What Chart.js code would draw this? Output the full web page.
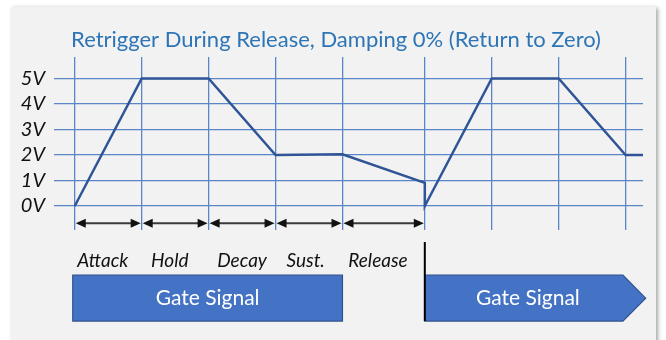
<!DOCTYPE html>
<html>
<head>
<meta charset="utf-8">
<script src="https://cdn.jsdelivr.net/npm/chart.js@4/dist/chart.umd.min.js"></script>
<style>
html,body{margin:0;padding:0;background:#ffffff;}
#wrap{width:666px;height:340px;position:relative;}
</style>
</head>
<body>
<div id="wrap"><canvas id="c" width="666" height="340"></canvas></div>
<script>
// ---- data ----
const titleText = "Retrigger During Release, Damping 0% (Return to Zero)";
const timeValues = [0, 1, 2, 3, 4, 5.23, 5.23, 6.23, 7.23, 8.23, 8.49];
const voltValues = [0, 5, 5, 2, 2.03, 0.91, 0, 5, 5, 2, 2];
const xGridValues = [0, 1, 2, 3, 4, 5.23, 6.23, 7.23, 8.23];
const yTickValues = [0, 1, 2, 3, 4, 5];
const yTickLabels = ["0V", "1V", "2V", "3V", "4V", "5V"];
const stageLabels = ["Attack", "Hold", "Decay", "Sust.", "Release"];
const stageLabelX = [0.42, 1.42, 2.5, 3.45, 4.53];
const arrowBounds = [0, 1, 2, 3, 4, 5.23];
const gateLabel = "Gate Signal";
const gate1 = [-0.03, 4.0];
const gate2 = [5.23, 8.19, 8.53];

const points = timeValues.map((t, i) => ({x: t, y: voltValues[i]}));

const panelPlugin = {
  id: 'panel',
  beforeDraw(chart) {
    const ctx = chart.ctx;
    ctx.save();
    ctx.fillStyle = '#ffffff';
    ctx.fillRect(0, 0, chart.width, chart.height);
    ctx.shadowColor = 'rgba(0,0,0,0.35)';
    ctx.shadowBlur = 4;
    ctx.shadowOffsetX = 2;
    ctx.shadowOffsetY = 1;
    ctx.fillStyle = '#f2f2f2';
    ctx.fillRect(11, 7, 645, 340);
    ctx.restore();
    // title
    ctx.save();
    ctx.fillStyle = '#2e75b6';
    ctx.font = '22px Lato';
    ctx.textAlign = 'center';
    ctx.textBaseline = 'alphabetic';
    ctx.fillText(titleText, 336, 46.5);
    ctx.restore();
  }
};

const annoPlugin = {
  id: 'anno',
  afterDraw(chart) {
    const ctx = chart.ctx;
    const xs = chart.scales.x, ys = chart.scales.y;
    ctx.save();
    // arrows
    const ay = ys.getPixelForValue(-0.68);
    ctx.strokeStyle = '#3a3a3a';
    ctx.fillStyle = '#111111';
    ctx.lineWidth = 2;
    for (let i = 0; i < arrowBounds.length - 1; i++) {
      const a = xs.getPixelForValue(arrowBounds[i]) + 1;
      const b = xs.getPixelForValue(arrowBounds[i + 1]) - 1;
      ctx.beginPath();
      ctx.moveTo(a + 6, ay); ctx.lineTo(b - 6, ay); ctx.stroke();
      ctx.beginPath();
      ctx.moveTo(a, ay); ctx.lineTo(a + 10, ay - 4.5); ctx.lineTo(a + 10, ay + 4.5); ctx.closePath(); ctx.fill();
      ctx.beginPath();
      ctx.moveTo(b, ay); ctx.lineTo(b - 10, ay - 4.5); ctx.lineTo(b - 10, ay + 4.5); ctx.closePath(); ctx.fill();
    }
    // stage labels
    ctx.fillStyle = '#111111';
    ctx.font = 'italic 19px Lato';
    ctx.textAlign = 'center';
    ctx.textBaseline = 'middle';
    const ly = ys.getPixelForValue(-2.16);
    stageLabels.forEach((s, i) => ctx.fillText(s, xs.getPixelForValue(stageLabelX[i]), ly));
    // gate boxes
    const gTop = ys.getPixelForValue(-2.71), gBot = ys.getPixelForValue(-4.51);
    const gMid = (gTop + gBot) / 2;
    ctx.fillStyle = '#4472c4';
    ctx.strokeStyle = '#2f528f';
    ctx.lineWidth = 1.2;
    const g1a = xs.getPixelForValue(gate1[0]), g1b = xs.getPixelForValue(gate1[1]);
    ctx.beginPath(); ctx.rect(g1a, gTop, g1b - g1a, gBot - gTop); ctx.fill(); ctx.stroke();
    const g2a = xs.getPixelForValue(gate2[0]), g2b = xs.getPixelForValue(gate2[1]), g2c = xs.getPixelForValue(gate2[2]);
    ctx.beginPath();
    ctx.moveTo(g2a, gTop); ctx.lineTo(g2b, gTop); ctx.lineTo(g2c, gMid); ctx.lineTo(g2b, gBot); ctx.lineTo(g2a, gBot); ctx.closePath();
    ctx.fill(); ctx.stroke();
    ctx.fillStyle = '#ffffff';
    ctx.font = '21px Lato';
    ctx.fillText(gateLabel, (g1a + g1b) / 2, gMid + 0.5);
    ctx.fillText(gateLabel, (g2a + g2b) / 2 + 4, gMid + 0.5);
    // retrigger vertical line
    const vx = xs.getPixelForValue(gate2[0]);
    ctx.strokeStyle = '#000000';
    ctx.lineWidth = 2;
    ctx.beginPath();
    ctx.moveTo(vx, ys.getPixelForValue(-1.41));
    ctx.lineTo(vx, gBot);
    ctx.stroke();
    ctx.restore();
  }
};

new Chart(document.getElementById('c'), {
  type: 'line',
  data: {
    datasets: [{
      data: points,
      borderColor: '#2f5597',
      borderWidth: 2.5,
      pointRadius: 0,
      tension: 0,
      fill: false
    }]
  },
  options: {
    responsive: false,
    animation: false,
    layout: {padding: {left: 0, right: 23, top: 57, bottom: 110}},
    plugins: {
      legend: {display: false},
      tooltip: {enabled: false},
      title: {display: false}
    },
    scales: {
      x: {
        type: 'linear',
        min: -0.31,
        max: 8.49,
        afterBuildTicks(scale) { scale.ticks = xGridValues.map(v => ({value: v})); },
        afterFit(scale) { scale.height = 0; },
        ticks: {display: false},
        border: {display: false},
        grid: {color: '#5a86c8', lineWidth: 1.3, drawTicks: false}
      },
      y: {
        type: 'linear',
        min: -0.94,
        max: 5.84,
        afterBuildTicks(scale) { scale.ticks = yTickValues.map(v => ({value: v})); },
        afterFit(scale) { scale.width = 54; },
        ticks: {
          padding: 9,
          color: '#111111',
          font: {family: 'Lato', size: 20, style: 'italic'},
          callback: (v) => { const i = yTickValues.indexOf(v); return i >= 0 ? yTickLabels[i] : ''; }
        },
        border: {display: false},
        grid: {color: '#5a86c8', lineWidth: 1.3, drawTicks: false}
      }
    }
  },
  plugins: [panelPlugin, annoPlugin]
});
</script>
</body>
</html>
